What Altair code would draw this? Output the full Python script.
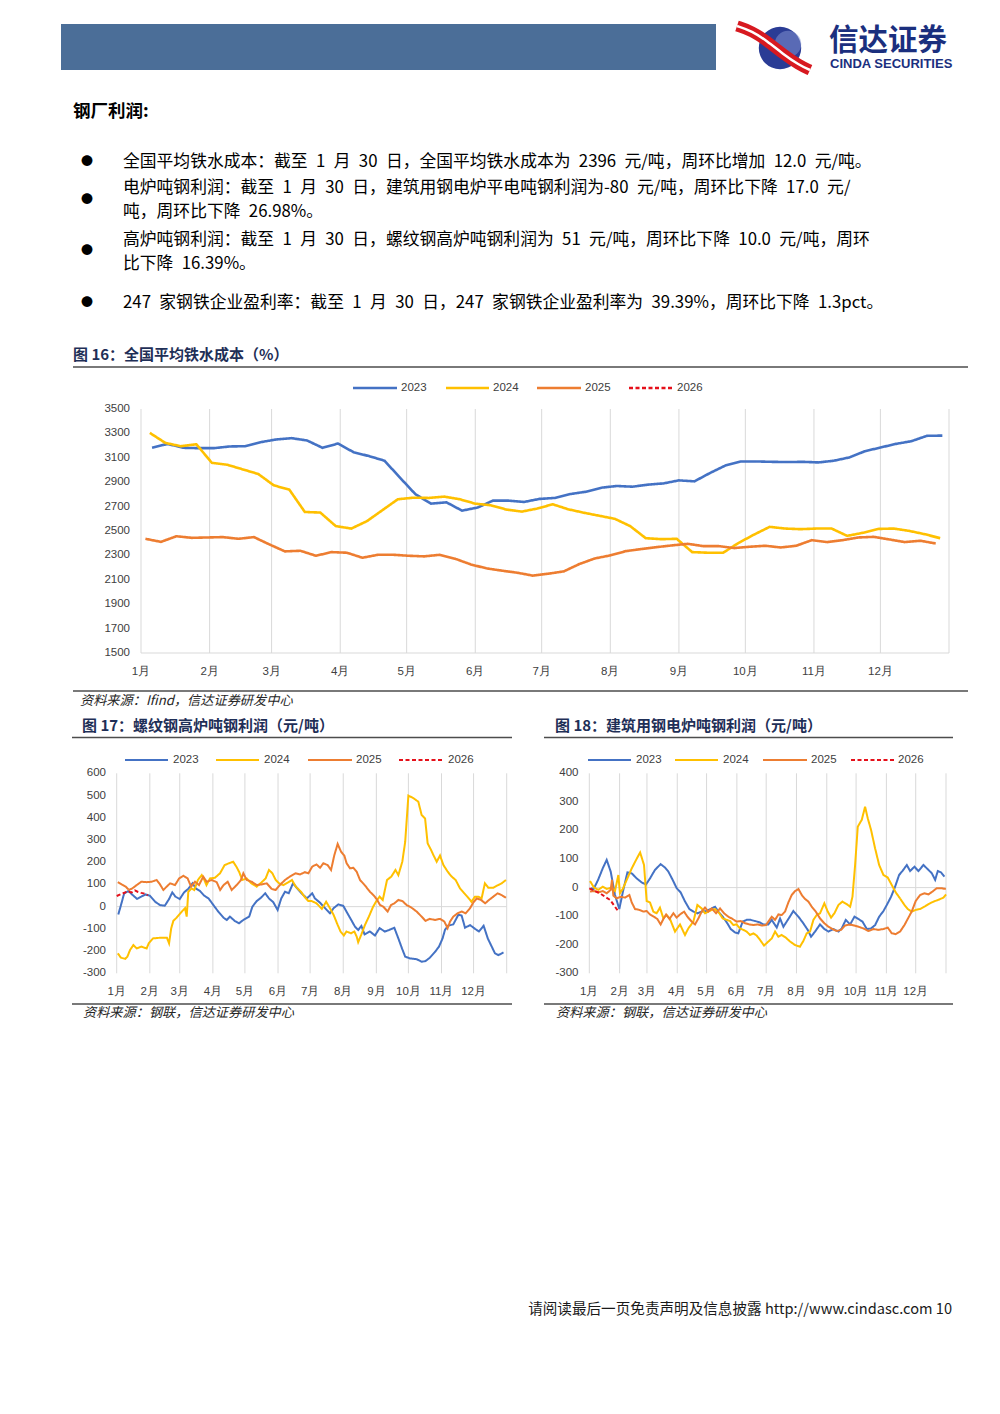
import altair as alt
import pandas as pd

# ---------------- data ----------------
YEARS = ["2023", "2024", "2025", "2026"]
COLORS = ["#4472C4", "#FFC000", "#ED7D31", "#E5101A"]
DASHES = [[1, 0], [1, 0], [1, 0], [4, 2.5]]

MONTH_LABELS = ["1月", "2月", "3月", "4月", "5月", "6月", "7月", "8月", "9月", "10月", "11月", "12月"]
MONTH_START_DAYS = [0, 31, 59, 90, 120, 151, 181, 212, 243, 273, 304, 334]
YEAR_END_DAY = 365

# Figure 16: weekly national average hot-metal cost (yuan/t)
FIG16_FIRST_DAY = {"2023": 5, "2024": 4, "2025": 2}
FIG16_2023 = [3182, 3214, 3182, 3179, 3179, 3193, 3195, 3228, 3250, 3261, 3242, 3182, 3217, 3146,
              3114, 3076, 2937, 2801, 2724, 2735, 2667, 2692, 2749, 2749, 2738, 2763, 2771, 2803,
              2822, 2855, 2869, 2863, 2880, 2890, 2915, 2907, 2975, 3037, 3070, 3070, 3067, 3065,
              3067, 3062, 3076, 3103, 3154, 3184, 3214, 3236, 3280, 3282]
FIG16_2024 = [3304, 3222, 3195, 3211, 3059, 3043, 3005, 2967, 2874, 2839, 2656, 2651, 2540, 2520,
              2580, 2670, 2760, 2773, 2771, 2782, 2760, 2724, 2711, 2676, 2659, 2684, 2719, 2678,
              2650, 2625, 2600, 2540, 2441, 2433, 2436, 2327, 2322, 2322, 2403, 2471, 2534, 2520,
              2515, 2520, 2520, 2460, 2485, 2517, 2520, 2501, 2474, 2441]
FIG16_2025 = [2436, 2411, 2457, 2444, 2447, 2450, 2436, 2450, 2390, 2333, 2338, 2297, 2327, 2322,
              2281, 2305, 2305, 2297, 2292, 2305, 2272, 2226, 2194, 2175, 2158, 2134, 2150, 2169,
              2229, 2275, 2300, 2335, 2352, 2368, 2382, 2395, 2376, 2376, 2360, 2371, 2379, 2365,
              2379, 2425, 2409, 2425, 2447, 2452, 2431, 2409, 2420, 2398]

# Figure 17: rebar blast-furnace profit (yuan/t), day of year / value
FIG17_2023_DAY = [1.5, 4, 7, 11, 15, 19, 23, 27, 31, 36, 40.5, 45, 49, 52, 55, 59, 63, 67, 71, 74, 78,
                  82, 86, 90.5, 95, 100, 103, 106, 110.7, 114.5, 118.5, 124, 127, 131, 135, 139, 142.5,
                  146.5, 150.6, 154, 157.5, 161, 165, 169, 173, 178, 183, 185.5, 190, 195, 199.6, 203,
                  207.4, 212, 215, 220, 223, 226, 229, 232, 237, 241.7, 246, 251, 255, 259.8, 263.6,
                  267, 270, 274.5, 281, 285.4, 289, 293, 298, 301.6, 305, 307.2, 310, 315, 319.7,
                  322.8, 326, 330.7, 335.4, 339, 343.4, 347.3, 351, 354, 357.3, 362]
FIG17_2023_VAL = [-35, 7, 60, 70, 52, 35, 45, 55, 49, 22, 7, 4, 34, 64, 45, 34, 64, 80, 105, 82, 70,
                  49, 37, 7, -22, -50, -60, -45, -65, -75, -60, -45, 0, 25, 40, 60, 37,
                  20, -15, 37, 67, 60, 105, 82, 60, 37, 60, 37, 19, -7, -30, -7,
                  10, 4, -22, -64, -90, -105, -87, -125, -112, -130, -97, -112, -105, -95, -143,
                  -188, -225, -233, -237, -248, -245, -230, -203, -180, -143, -105, -86, -80, -37,
                  -40, -95, -83, -100, -112, -86, -143, -180, -210, -218, -206]
FIG17_2024_DAY = [1, 4, 8, 10, 12.5, 15.6, 18.7, 23, 28, 30, 34, 40.5, 47, 49, 51, 53, 56, 61, 64, 65.5,
                  67, 70, 72.6, 76, 79.6, 82, 84, 87.3, 92, 96.7, 101, 105, 109, 112, 114.5, 117.6,
                  121.7, 126, 131, 135.7, 139.4, 142.5, 145.7, 148.8, 152, 156, 160.8, 164, 167.6,
                  172.5, 175.7, 179.4, 182.5, 187, 192, 196, 199.6, 203, 206.6, 209.5, 212.6, 215,
                  219.3, 222.4, 224.6, 226, 229, 232.4, 236, 240, 243, 246, 249, 253, 257, 260.9,
                  263.6, 267.3, 270, 273, 278, 282.3, 285.4, 288.6, 291, 294.2, 296.4, 299.5, 302.6,
                  305.8, 309.8, 313.5, 317.2, 321.3, 325.3, 329, 332, 335.3, 338.4, 341.5, 344.6,
                  347.8, 352.5, 357, 360.3, 364.3]
FIG17_2024_VAL = [-210, -230, -235, -225, -195, -173, -188, -180, -188, -165, -143, -140, -140, -165,
                  -98, -64, -50, -22, -7, -45, 67, 82, 75, 120, 142, 120, 97, 127, 130, 150, 187, 195,
                  202, 180, 157, 120, 127, 105, 90, 110, 127, 165, 150, 120, 105, 97, 110, 120, 90,
                  67, 45, 25, 25, 15, -10, 22, -7, -37, -80, -112, -130, -112, -120, -112, -135,
                  -160, -125, -82, -45, 0, 25, 45, 30, 120, 135, 165, 142, 202, 292, 500, 487, 472,
                  412, 397, 285, 255, 232, 202, 230, 187, 157, 135, 120, 82, 60, 40, 22, 45, 45, 37,
                  105, 85, 85, 97, 105, 120]
FIG17_2025_DAY = [1, 4.6, 8.4, 11.5, 14.6, 18.7, 23, 28, 32.7, 37.4, 40.5, 43.7, 46.8, 50, 54.6, 58.4,
                  62.4, 66.4, 69.6, 73.3, 77, 81, 84.2, 89, 93.6, 96.8, 100, 103.9, 107.6, 112.3,
                  116.3, 118.5, 121.7, 126.3, 131, 135.7, 140.4, 145, 148.8, 152.7, 157.5, 162,
                  167.5, 171.6, 176.2, 179.4, 183, 187, 190.3, 193.4, 197.4, 200.6, 203.7, 206.8,
                  210, 213, 215.2, 218.4, 221.5, 224.6, 227.7, 232.4, 237, 240.2, 243.3, 246.5,
                  249.5, 253.6, 256.7, 259.9, 263.6, 267.4, 271.4, 276, 280.7, 285.4, 289, 293,
                  297.9, 302.6, 306.6, 309.7, 312, 315, 319, 322.9, 326.6, 330.7, 333.8, 337, 341,
                  344.9, 348.4, 352.5, 356.5, 360.3, 364.3]
FIG17_2025_VAL = [110, 100, 90, 75, 82, 97, 112, 110, 112, 120, 100, 75, 90, 105, 97, 127, 139, 127, 90,
                  112, 97, 135, 112, 120, 110, 75, 97, 112, 75, 97, 120, 150, 120, 112, 97, 100, 105,
                  80, 75, 97, 120, 135, 150, 145, 155, 150, 180, 190, 175, 195, 187, 165, 232, 282,
                  247, 230, 195, 172, 175, 157, 120, 95, 67, 52, 34, 7, 0, -22, 7, 15, 30, 25, 7,
                  -5, -22, -45, -64, -55, -60, -55, -67, -97, -67, -45, -30, -22, -30, -7, 19, 37,
                  30, 15, 30, 45, 60, 52, 40]
FIG17_2026_DAY = [0, 5, 10, 14, 17, 20, 23, 26.5, 29]
FIG17_2026_VAL = [48, 58, 68, 64, 73, 66, 62, 58, 51]

# Figure 18: construction-steel EAF profit (yuan/t)
FIG18_2023_DAY = [2, 4, 9, 13.7, 17.8, 21.9, 26.3, 30.7, 34.8, 39, 43.4, 48.5, 53.6, 58, 62.1, 67.2, 73,
                  77.5, 80.9, 85.3, 89.4, 93.5, 98, 102.4, 106.5, 110.6, 115, 119.5, 124.2, 128.7,
                  132, 136.5, 140.7, 144.7, 149.1, 152.5, 157, 161, 165, 169.6, 174.7, 178.1, 183.2,
                  186.7, 191.8, 195.2, 198.6, 203.7, 208.8, 214, 219, 223.5, 226.9, 231, 236.1,
                  240.5, 244.7, 249.8, 254.9, 258.3, 262.4, 266.9, 271.3, 275.4, 279.5, 284, 288.4,
                  292.5, 296.6, 301, 304.4, 308.8, 312.9, 317, 320.4, 324.9, 328.3, 332.7, 336.8,
                  341.9, 347, 350.5, 353.9, 356.6, 360, 363.4]
FIG18_2023_VAL = [0, -8, 27, 67, 97, 56, -26, -75, -8, 53, 50, 32, 18, 11, 32, 62, 82, 70, 56, 27, -2,
                  -17, -49, -75, -84, -90, -84, -82, -75, -67, -84, -102, -122, -145, -157, -160,
                  -119, -113, -113, -117, -122, -129, -129, -113, -140, -108, -137, -110, -82, -102,
                  -125, -148, -172, -154, -129, -145, -154, -145, -154, -143, -113, -129, -102,
                  -110, -119, -145, -143, -131, -102, -82, -61, -32, 3, 44, 58, 79, 58, 73, 58, 79,
                  62, 50, 27, 58, 53, 38]
FIG18_2024_DAY = [0.7, 4.8, 9.2, 13.7, 17.8, 22.9, 26.3, 29.7, 31.4, 34.2, 38.3, 43.4, 47.9, 52, 56,
                  58.7, 62.1, 65.5, 68.9, 72.3, 75.8, 79.2, 82.6, 87.7, 92.8, 97.9, 101.3, 106.5,
                  110.6, 115, 118.4, 121.8, 125.2, 128.6, 133.1, 136.5, 140.6, 144, 147.4, 150.8,
                  154.2, 157.6, 161, 164.5, 167.9, 171.3, 174.7, 178.8, 183.2, 186.7, 190.1, 193.5,
                  196.9, 201, 205.5, 210.5, 215.5, 219, 222.5, 225.9, 229.3, 232.7, 236.1, 240.5,
                  244, 247.4, 250.8, 254.9, 259, 263.5, 266.9, 269.3, 272, 274.7, 278.8, 282.2,
                  284.9, 288.3, 292.4, 296.6, 301, 305.4, 309.5, 313.6, 318, 322.5, 325.8, 329.9,
                  334, 338.5, 342.9, 347, 352.2, 357.2, 362.4, 365]
FIG18_2024_VAL = [23, 0, -8, 3, -5, 0, -12, 44, -20, -5, 27, 67, 97, 123, 79, -47, -52, -84, -90, -70,
                  -108, -96, -110, -154, -129, -166, -143, -119, -61, -73, -90, -84, -78, -75, -90,
                  -108, -113, -117, -131, -129, -143, -148, -154, -166, -160, -168, -183, -203, -189,
                  -178, -154, -172, -166, -175, -189, -201, -207, -187, -160, -154, -113, -96, -90,
                  -55, -84, -105, -90, -61, -49, -58, -67, -32, 79, 213, 237, 283, 243, 202, 138, 79,
                  44, 35, 9, -17, -38, -61, -75, -84, -78, -75, -67, -58, -49, -43, -35, -24]
FIG18_2025_DAY = [0.7, 4.8, 9.2, 13.7, 17.8, 21.9, 23.2, 24.6, 28, 32, 36.5, 41, 43.4, 46.8, 51.2, 55.3,
                  58.7, 62.1, 66.2, 69.6, 73, 75.8, 78.6, 82, 86, 89.4, 92.8, 97, 100.4, 104.8, 108.2,
                  111.6, 115, 118.4, 121.8, 125.2, 129.7, 133.8, 137.9, 142.3, 146.7, 150.8, 154.9,
                  159.4, 163.8, 167.9, 172, 176.5, 180.9, 183.2, 186.7, 190.1, 193.5, 196.9, 200.3,
                  203.7, 207.1, 210.6, 214, 217.4, 220.8, 224.2, 227.6, 231.7, 236.1, 240.5, 244.7,
                  248.8, 253.1, 257.6, 261.6, 266.9, 271.3, 275.4, 280.5, 285.6, 290.7, 295.8, 301,
                  305.4, 309.5, 313.6, 318, 322.5, 325.8, 329.9, 334, 338.5, 342.9, 347, 351.1,
                  355.5, 360, 364.8]
FIG18_2025_VAL = [-14, -12, -17, -12, -20, -8, 27, -28, -38, -32, -35, -26, -52, -75, -78, -84, -82, -94,
                  -102, -110, -129, -110, -94, -110, -90, -105, -94, -84, -102, -119, -129, -108, -84,
                  -70, -84, -73, -90, -73, -90, -102, -110, -119, -117, -125, -129, -131, -129, -133,
                  -131, -119, -102, -113, -94, -96, -84, -52, -26, -12, -5, -26, -40, -49, -67, -84,
                  -108, -125, -137, -145, -152, -148, -133, -129, -133, -137, -143, -152, -145, -148,
                  -145, -140, -160, -163, -154, -131, -110, -84, -47, -26, -20, -24, -14, -2, -2, -5]
FIG18_2026_DAY = [0, 5.8, 11, 16, 21.2, 26.3, 29]
FIG18_2026_VAL = [-3, -12, -20, -32, -43, -67, -80]

FIG16_YTICKS = [1500, 1700, 1900, 2100, 2300, 2500, 2700, 2900, 3100, 3300, 3500]
FIG17_YTICKS = [-300, -200, -100, 0, 100, 200, 300, 400, 500, 600]
FIG18_YTICKS = [-300, -200, -100, 0, 100, 200, 300, 400]

# ---------------- layout helpers ----------------
OFF = 8
CJK = "Noto Sans CJK SC"
LAT = "Liberation Sans"
NAVY = "#1F2F57"
GRID = "#D9D9D9"
TICK = "#404040"
SP = "\u2002"  # en space, matches the half-width spacing of the original typesetting

color_scale = alt.Scale(domain=YEARS, range=COLORS)
dash_scale = alt.Scale(domain=YEARS, range=DASHES)


def P(v):
    return v - OFF


def text_layer(rows, **kw):
    df = pd.DataFrame(rows, columns=["x", "y", "t"])
    df["x"] = df["x"] - OFF
    df["y"] = df["y"] - OFF
    return alt.Chart(df).mark_text(**kw).encode(
        x=alt.X("x:Q", scale=None, axis=None),
        y=alt.Y("y:Q", scale=None, axis=None),
        text="t:N",
    )


def rule_layer(rows, color, width):
    df = pd.DataFrame(rows, columns=["x", "y", "x2", "y2"]) - OFF
    return alt.Chart(df).mark_rule(color=color, strokeWidth=width).encode(
        x=alt.X("x:Q", scale=None, axis=None),
        y=alt.Y("y:Q", scale=None, axis=None),
        x2="x2:Q",
        y2="y2:Q",
    )


def legend_layers(y, items, sw):
    # items: (series, x_start, x_end, label_x)
    df = pd.DataFrame(items, columns=["series", "x", "x2", "lx"])
    df["x"] -= OFF
    df["x2"] -= OFF
    df["lx"] -= OFF
    df["y"] = y - OFF
    lines = alt.Chart(df).mark_rule(strokeWidth=sw).encode(
        x=alt.X("x:Q", scale=None, axis=None),
        x2="x2:Q",
        y=alt.Y("y:Q", scale=None, axis=None),
        color=alt.Color("series:N", scale=color_scale, legend=None),
        strokeDash=alt.StrokeDash("series:N", scale=dash_scale, legend=None),
    )
    labels = alt.Chart(df).mark_text(align="left", baseline="middle", font=LAT,
                                     fontSize=11.5, color=TICK).encode(
        x=alt.X("lx:Q", scale=None, axis=None),
        y=alt.Y("y:Q", scale=None, axis=None),
        text="series:N",
    )
    return [lines, labels]


def panel(series, xr, ydom, yr, yticks, ylab_x, xlab_y, sw, zero_line, bottom_axis):
    sx = alt.Scale(domain=[0, YEAR_END_DAY], range=[P(xr[0]), P(xr[1])], nice=False, zero=False)
    sy = alt.Scale(domain=ydom, range=[P(yr[0]), P(yr[1])], nice=False, zero=False)
    X = alt.X("day:Q", scale=sx, axis=None)
    Y = alt.Y("v:Q", scale=sy, axis=None)
    layers = []
    grid_df = pd.DataFrame({"day": MONTH_START_DAYS + [YEAR_END_DAY]})
    layers.append(alt.Chart(grid_df).mark_rule(color=GRID, strokeWidth=1).encode(
        x=X, y=alt.value(P(yr[1])), y2=alt.value(P(yr[0]))))
    if zero_line:
        layers.append(alt.Chart(pd.DataFrame({"v": [0]})).mark_rule(color=GRID, strokeWidth=1).encode(
            y=Y, x=alt.value(P(xr[0])), x2=alt.value(P(xr[1]))))
    if bottom_axis:
        layers.append(alt.Chart(pd.DataFrame({"v": [ydom[0]]})).mark_rule(color=GRID, strokeWidth=1).encode(
            y=Y, x=alt.value(P(xr[0])), x2=alt.value(P(xr[1]))))
    ydf = pd.DataFrame({"v": yticks, "label": [str(v) for v in yticks]})
    layers.append(alt.Chart(ydf).mark_text(align="right", baseline="middle", font=LAT,
                                           fontSize=11.5, color=TICK).encode(
        y=Y, x=alt.value(P(ylab_x)), text="label:N"))
    xdf = pd.DataFrame({"day": MONTH_START_DAYS, "label": MONTH_LABELS})
    layers.append(alt.Chart(xdf).mark_text(align="center", baseline="middle", font=LAT,
                                           fontSize=11.5, color=TICK).encode(
        x=X, y=alt.value(P(xlab_y)), text="label:N"))
    for name, days, vals in series:
        df = pd.DataFrame({"day": days, "v": vals, "series": name})
        layers.append(alt.Chart(df).mark_line(strokeWidth=sw, interpolate="linear").encode(
            x=X, y=Y,
            color=alt.Color("series:N", scale=color_scale, legend=None),
            strokeDash=alt.StrokeDash("series:N", scale=dash_scale, legend=None),
        ))
    return alt.layer(*layers)


def weekly_days(first, n):
    return [first + 7 * i for i in range(n)]


# ---------------- panels ----------------
p16 = panel(
    [("2023", weekly_days(FIG16_FIRST_DAY["2023"], len(FIG16_2023)), FIG16_2023),
     ("2024", weekly_days(FIG16_FIRST_DAY["2024"], len(FIG16_2024)), FIG16_2024),
     ("2025", weekly_days(FIG16_FIRST_DAY["2025"], len(FIG16_2025)), FIG16_2025)],
    xr=(141, 949), ydom=[1500, 3500], yr=(653, 409), yticks=FIG16_YTICKS,
    ylab_x=130, xlab_y=672, sw=2.6, zero_line=False, bottom_axis=True)

p17 = panel(
    [("2023", FIG17_2023_DAY, FIG17_2023_VAL), ("2024", FIG17_2024_DAY, FIG17_2024_VAL),
     ("2025", FIG17_2025_DAY, FIG17_2025_VAL), ("2026", FIG17_2026_DAY, FIG17_2026_VAL)],
    xr=(116.7, 506.7), ydom=[-300, 600], yr=(973.3, 773.3), yticks=FIG17_YTICKS,
    ylab_x=106, xlab_y=992, sw=2, zero_line=True, bottom_axis=False)

p18 = panel(
    [("2023", FIG18_2023_DAY, FIG18_2023_VAL), ("2024", FIG18_2024_DAY, FIG18_2024_VAL),
     ("2025", FIG18_2025_DAY, FIG18_2025_VAL), ("2026", FIG18_2026_DAY, FIG18_2026_VAL)],
    xr=(589.3, 946), ydom=[-300, 400], yr=(973.3, 773.3), yticks=FIG18_YTICKS,
    ylab_x=578.5, xlab_y=992, sw=2, zero_line=True, bottom_axis=False)

# ---------------- page decorations ----------------
header_df = pd.DataFrame({"x": [P(61)], "x2": [P(716)], "y": [P(24)], "y2": [P(70)]})
header = alt.Chart(header_df).mark_rect(color="#4B6E98").encode(
    x=alt.X("x:Q", scale=None, axis=None), x2="x2:Q",
    y=alt.Y("y:Q", scale=None, axis=None), y2="y2:Q")

logo_circle = alt.Chart(pd.DataFrame({"x": [P(780)], "y": [P(48)]})).mark_circle(
    size=1800, color="#2A3C95", opacity=1).encode(
    x=alt.X("x:Q", scale=None, axis=None), y=alt.Y("y:Q", scale=None, axis=None))
logo_hi = alt.Chart(pd.DataFrame({"x": [P(788)], "y": [P(44)]})).mark_circle(
    size=700, color="#7F8FD0", opacity=0.55).encode(
    x=alt.X("x:Q", scale=None, axis=None), y=alt.Y("y:Q", scale=None, axis=None))
ribbon_df = pd.DataFrame({"x": [737, 752, 767, 783, 799, 810], "y": [26, 31, 41, 54, 65, 70],
                          "o": [0, 1, 2, 3, 4, 5]})
ribbon_df["x"] -= OFF
ribbon_df["y"] -= OFF
ribbon_red = alt.Chart(ribbon_df).mark_line(color="#D71920", strokeWidth=11, interpolate="basis").encode(
    x=alt.X("x:Q", scale=None, axis=None), y=alt.Y("y:Q", scale=None, axis=None), order="o:Q")
ribbon_white = alt.Chart(ribbon_df).mark_line(color="white", strokeWidth=2.5, interpolate="basis").encode(
    x=alt.X("x:Q", scale=None, axis=None), y=alt.Y("y:Q", scale=None, axis=None), order="o:Q")

logo_cn = text_layer([(829, 41, "信达证券")], align="left", baseline="middle", font=CJK,
                     fontSize=29.5, fontWeight="bold", color="#1B2F7E")
logo_en = text_layer([(830, 64, "CINDA SECURITIES")], align="left", baseline="middle", font=LAT,
                     fontSize=13, fontWeight="bold", color="#1B2F7E")

section_title = text_layer([(73, 112, "钢厂利润:")], align="left", baseline="middle", font=CJK,
                           fontSize=17.5, fontWeight="bold", color="#000000")
bullets = text_layer([(87, 162, "●"), (87, 200, "●"), (87, 251, "●"), (87, 303, "●")],
                     align="center", baseline="middle", font=CJK, fontSize=12, color="#000000")
body = text_layer([
    (123, 162, f"全国平均铁水成本：截至{SP}1{SP}月{SP}30{SP}日，全国平均铁水成本为{SP}2396{SP}元/吨，周环比增加{SP}12.0{SP}元/吨。"),
    (123, 188, f"电炉吨钢利润：截至{SP}1{SP}月{SP}30{SP}日，建筑用钢电炉平电吨钢利润为-80{SP}元/吨，周环比下降{SP}17.0{SP}元/"),
    (123, 212, f"吨，周环比下降{SP}26.98%。"),
    (123, 240, f"高炉吨钢利润：截至{SP}1{SP}月{SP}30{SP}日，螺纹钢高炉吨钢利润为{SP}51{SP}元/吨，周环比下降{SP}10.0{SP}元/吨，周环"),
    (123, 264, f"比下降{SP}16.39%。"),
    (123, 303, f"247{SP}家钢铁企业盈利率：截至{SP}1{SP}月{SP}30{SP}日，247{SP}家钢铁企业盈利率为{SP}39.39%，周环比下降{SP}1.3pct。"),
], align="left", baseline="middle", font=CJK, fontSize=16.8, color="#000000")

fig_titles = text_layer([
    (73, 355, "图 16：全国平均铁水成本（%）"),
    (82, 726, "图 17：螺纹钢高炉吨钢利润（元/吨）"),
    (555, 726, "图 18：建筑用钢电炉吨钢利润（元/吨）"),
], align="left", baseline="middle", font=CJK, fontSize=15, fontWeight="bold", color=NAVY)

frame_rules = rule_layer([
    (73, 367, 968, 367), (73, 691, 968, 691),
    (72, 737.5, 512, 737.5), (72, 1004, 512, 1004),
    (544, 737.5, 953, 737.5), (544, 1004, 953, 1004),
], color="#4D4D4D", width=1.5)

sources = text_layer([
    (80, 701, "资料来源：Ifind，信达证券研发中心"),
    (83, 1013, "资料来源：钢联，信达证券研发中心"),
    (556, 1013, "资料来源：钢联，信达证券研发中心"),
], align="left", baseline="middle", font=CJK, fontSize=13.2, fontStyle="italic", color="#262626")

footer = text_layer([(952, 1310, "请阅读最后一页免责声明及信息披露 http://www.cindasc.com  10")],
                    align="right", baseline="middle", font=CJK, fontSize=14.6, color="#1A1A1A")

leg16 = legend_layers(388, [("2023", 353, 397, 401), ("2024", 446, 489, 493),
                            ("2025", 537, 581, 585), ("2026", 629, 672, 677)], 2.6)
leg17 = legend_layers(760, [("2023", 125, 168, 173), ("2024", 216, 259, 264),
                            ("2025", 308, 352, 356), ("2026", 399, 443, 448)], 2.2)
leg18 = legend_layers(760, [("2023", 588, 631, 636), ("2024", 675, 718, 723),
                            ("2025", 763, 807, 811), ("2026", 851, 894, 898)], 2.2)

chart = alt.layer(
    header, logo_circle, logo_hi, ribbon_red, ribbon_white, logo_cn, logo_en,
    section_title, bullets, body, fig_titles, frame_rules, sources, footer,
    *leg16, *leg17, *leg18,
    p16, p17, p18,
).resolve_scale(
    x="independent", y="independent"
).properties(
    width=984, height=1398, padding=0,
    autosize=alt.AutoSizeParams(type="none"),
    background="white",
).configure_view(stroke=None)

chart.save("out.html", embed_options={"renderer": "svg", "actions": False})
